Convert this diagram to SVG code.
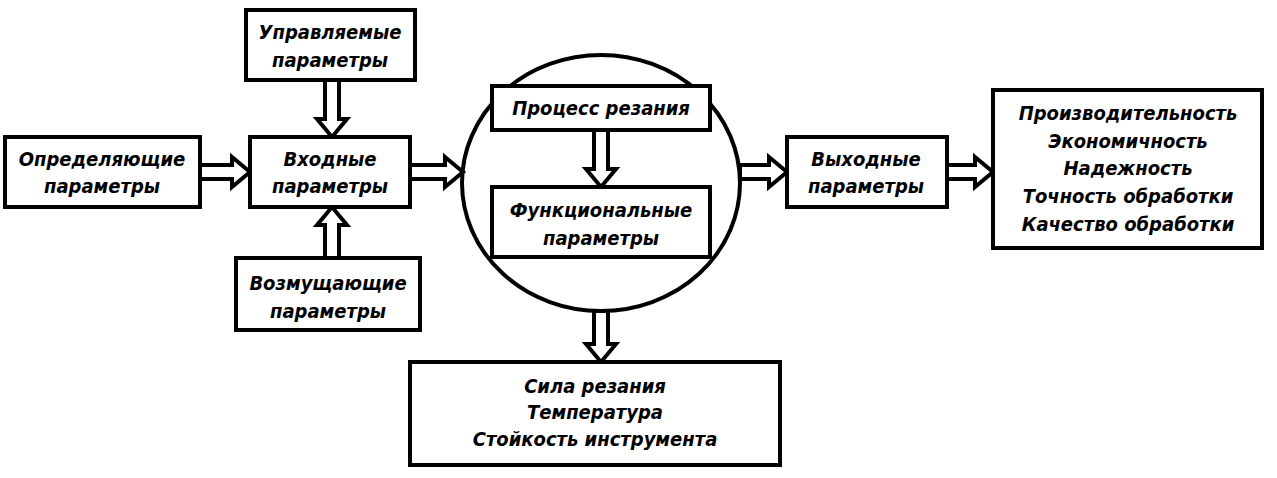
<svg xmlns="http://www.w3.org/2000/svg" width="1277" height="478" viewBox="0 0 1277 478">
<style>
.b{fill:#fff;stroke:#000;stroke-width:4}
.a{fill:#fff;stroke:#000;stroke-width:4;stroke-linejoin:miter}
text{font-family:"DejaVu Sans","Liberation Sans",sans-serif;font-style:italic;font-weight:bold;font-stretch:condensed;font-size:20px;text-anchor:middle;fill:#000}
</style>
<rect width="1277" height="478" fill="#fff"/>
<g id="circle"><ellipse class="b" cx="601" cy="183" rx="139" ry="128"/></g>
<g id="connectors">
<path class="a" d="M200,165H232V157L250,172L232,187V179H200Z"/>
<path class="a" d="M325,80V119H317L332,137L347,119H339V80Z"/>
<path class="a" d="M325,258V225H317L332,207L347,225H339V258Z"/>
<path class="a" d="M410,165H445V157L463,172L445,187V179H410Z"/>
<path class="a" d="M594,130V169H586L601,187L616,169H608V130Z"/>
<path class="a" d="M594,311V344H586L601,362L616,344H608V311Z"/>
<path class="a" d="M740,165H769V157L787,172L769,187V179H740Z"/>
<path class="a" d="M947,165H975V157L993,172L975,187V179H947Z"/>
</g>
<g id="opr"><rect class="b" x="5" y="137" width="195" height="70"/><text x="102" y="166">Определяющие</text><text x="102" y="193">параметры</text></g>
<g id="upr"><rect class="b" x="246" y="10" width="169" height="70"/><text x="330" y="39">Управляемые</text><text x="330" y="67">параметры</text></g>
<g id="vhod"><rect class="b" x="250" y="137" width="160" height="70"/><text x="330" y="166">Входные</text><text x="330" y="193">параметры</text></g>
<g id="voz"><rect class="b" x="236" y="258" width="184" height="72"/><text x="328" y="290">Возмущающие</text><text x="328" y="318">параметры</text></g>
<g id="proc"><rect class="b" x="492" y="86" width="218" height="44"/><text x="601" y="115">Процесс резания</text></g>
<g id="func"><rect class="b" x="492" y="187" width="218" height="70"/><text x="601" y="217">Функциональные</text><text x="601" y="245">параметры</text></g>
<g id="sila"><rect class="b" x="410" y="362" width="370" height="103"/><text x="595" y="393">Сила резания</text><text x="595" y="419">Температура</text><text x="595" y="446">Стойкость инструмента</text></g>
<g id="vyh"><rect class="b" x="787" y="137" width="160" height="70"/><text x="866" y="166">Выходные</text><text x="866" y="193">параметры</text></g>
<g id="res"><rect class="b" x="993" y="90" width="269" height="158"/><text x="1128" y="120">Производительность</text><text x="1128" y="148">Экономичность</text><text x="1128" y="175">Надежность</text><text x="1128" y="203">Точность обработки</text><text x="1128" y="231">Качество обработки</text></g>
</svg>
